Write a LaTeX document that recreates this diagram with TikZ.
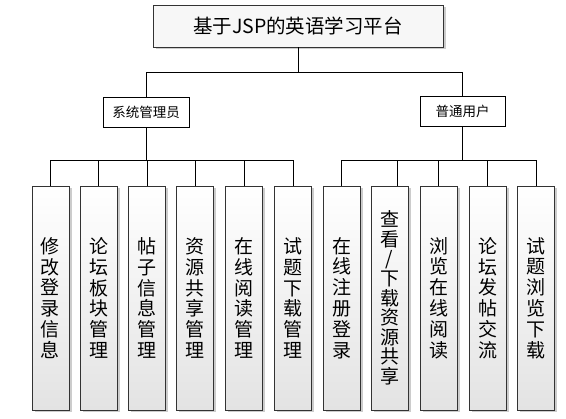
\documentclass[tikz,border=0pt]{standalone}
\usepackage{fontspec}
\newfontfamily\cjk{Noto Sans CJK SC}
\usetikzlibrary{shadows}

\tikzset{
  boxshadow/.style={drop shadow={shadow xshift=2.5pt, shadow yshift=-2.5pt, fill=gray!40, opacity=1}},
  rootbox/.style={draw=black!80, fill=gray!6, line width=0.8pt, minimum width=290pt,
    minimum height=42pt, inner sep=0pt, boxshadow, font=\cjk\fontsize{19.5}{22}\selectfont},
  rolebox/.style={draw=black, fill=white, line width=0.8pt, minimum height=30pt,
    inner sep=0pt, font=\cjk\fontsize{13.5}{16}\selectfont},
  itembox/.style={draw=black!80, top color=white, bottom color=gray!22, line width=0.8pt,
    minimum width=37pt, minimum height=224pt, inner sep=0pt, align=center, boxshadow,
    font=\cjk\fontsize{19}{20.8}\selectfont},
  link/.style={line width=0.8pt}
}

\begin{document}
\begin{tikzpicture}[x=1pt, y=-1pt]
  \useasboundingbox (0,0) rectangle (566,419);

  \node[rootbox] (root) at (298,26) {基于JSP的英语学习平台};
  \node[rolebox, minimum width=86pt] (admin) at (146,112) {系统管理员};
  \node[rolebox, minimum width=85pt] (user) at (462.5,111) {普通用户};

  \node[itembox] (a1) at (50.5,298) {修\\改\\登\\录\\信\\息};
  \node[itembox] (a2) at (98.5,298) {论\\坛\\板\\块\\管\\理};
  \node[itembox] (a3) at (147,298) {帖\\子\\信\\息\\管\\理};
  \node[itembox] (a4) at (195,298) {资\\源\\共\\享\\管\\理};
  \node[itembox] (a5) at (244,298) {在\\线\\阅\\读\\管\\理};
  \node[itembox] (a6) at (293,298) {试\\题\\下\\载\\管\\理};

  \node[itembox] (u1) at (341.5,298) {在\\线\\注\\册\\登\\录};
  \node[itembox, font=\cjk\fontsize{19}{19.6}\selectfont] (u2) at (389.5,298)
    {查\\看\\/\\下\\载\\资\\源\\共\\享};
  \node[itembox] (u3) at (438.5,298) {浏\\览\\在\\线\\阅\\读};
  \node[itembox] (u4) at (487.5,298) {论\\坛\\发\\帖\\交\\流};
  \node[itembox] (u5) at (536,298) {试\\题\\浏\\览\\下\\载};

  \coordinate (topbar) at (root.south |- 0,72);
  \coordinate (abar) at (admin.south |- 0,160);
  \coordinate (ubar) at (user.south |- 0,160);

  \draw[link] (root.south) -- (topbar) -| (admin.north);
  \draw[link] (topbar) -| (user.north);
  \draw[link] (admin.south) -- (abar);
  \draw[link] (user.south) -- (ubar);
  \foreach \i in {1,...,6}
    \draw[link] (abar) -| (a\i.north);
  \foreach \i in {1,3,4,5}
    \draw[link] (ubar) -| (u\i.north);
  \draw[link] (ubar) -| ([xshift=7.5pt]u2.north);
\end{tikzpicture}
\end{document}
